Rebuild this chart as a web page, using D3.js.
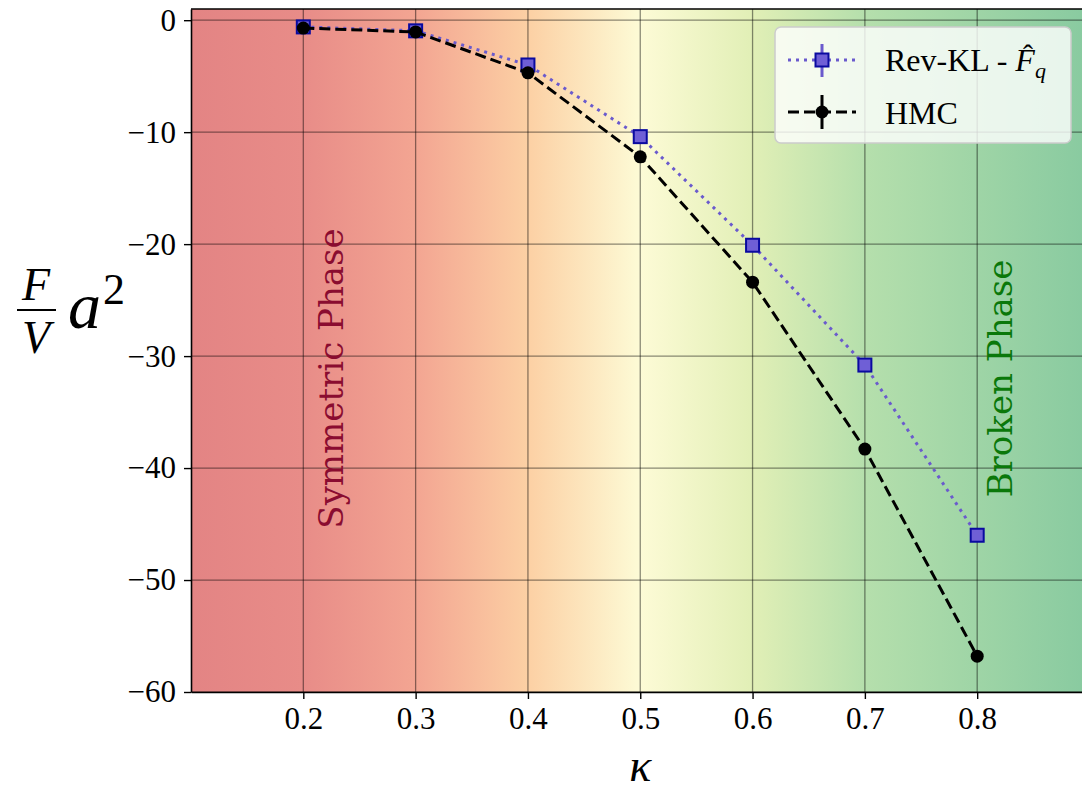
<!DOCTYPE html>
<html>
<head>
<meta charset="utf-8">
<script src="https://cdn.jsdelivr.net/npm/d3@7"></script>
<style>
  body { margin:0; background:#fff; }
  svg { display:block; }
  text { font-family: "Liberation Serif", "DejaVu Serif", serif; }
</style>
</head>
<body>
<svg id="chart" width="1082" height="791"></svg>
<script>
// kappa values and free energy density
var kappa = [0.2, 0.3, 0.4, 0.5, 0.6, 0.7, 0.8];
var revKL = [-0.6, -0.95, -4.0, -10.4, -20.1, -30.8, -46.0];
var hmc = [-0.7, -1.05, -4.7, -12.2, -23.4, -38.3, -56.8];

var xTicks = [0.2, 0.3, 0.4, 0.5, 0.6, 0.7, 0.8];
var yTicks = [0, -10, -20, -30, -40, -50, -60];

var seriesNames = ["Rev-KL - ", "HMC"];

// background colour stops (kappa -> colour)
var bgStops = [
  [0.1, "#e38484"], [0.2, "#e88c88"], [0.3, "#f3a592"], [0.4, "#fcd0a4"],
  [0.5, "#fdfbd6"], [0.6, "#e1efb6"], [0.7, "#b5dfac"], [0.9, "#88caa0"]
];

var svg = d3.select("#chart");
var margins = {left:191, top:9, bottom:99};
var x = d3.scaleLinear().domain([0.1, 0.9]).range([margins.left, 1089.5]);
var y = d3.scaleLinear().domain([-60, 1]).range([791 - margins.bottom, margins.top]);

var defs = svg.append("defs");
var grad = defs.append("linearGradient").attr("id","bg")
  .attr("gradientUnits","userSpaceOnUse")
  .attr("x1", x(0.1)).attr("x2", x(0.9)).attr("y1",0).attr("y2",0);
grad.selectAll("stop").data(bgStops).enter().append("stop")
  .attr("offset", function(d){ return (d[0]-0.1)/0.8; })
  .attr("stop-color", function(d){ return d[1]; });

defs.append("clipPath").attr("id","clip").append("rect")
  .attr("x", x(0.1)).attr("y", y(1))
  .attr("width", x(0.9)-x(0.1)).attr("height", y(-60)-y(1));

svg.append("rect")
  .attr("x", x(0.1)).attr("y", y(1))
  .attr("width", x(0.9)-x(0.1)).attr("height", y(-60)-y(1))
  .attr("fill","url(#bg)");

// grid
var grid = svg.append("g").attr("stroke","#000").attr("stroke-opacity",0.45).attr("stroke-width",1.3);
grid.selectAll(".vx").data(xTicks).enter().append("line")
  .attr("x1", function(d){return x(d);}).attr("x2", function(d){return x(d);})
  .attr("y1", y(1)).attr("y2", y(-60));
grid.selectAll(".hy").data(yTicks).enter().append("line")
  .attr("y1", function(d){return y(d);}).attr("y2", function(d){return y(d);})
  .attr("x1", x(0.1)).attr("x2", x(0.9));

// phase labels
svg.append("text")
  .attr("transform","translate(" + (x(0.225)+12) + "," + y(-32) + ") rotate(-90)")
  .attr("text-anchor","middle")
  .style("font-family","'DejaVu Serif', serif").attr("font-size",34)
  .attr("fill","#8a0c30").text("Symmetric Phase");
svg.append("text")
  .attr("transform","translate(" + (x(0.82)+12) + "," + y(-32) + ") rotate(-90)")
  .attr("text-anchor","middle")
  .style("font-family","'DejaVu Serif', serif").attr("font-size",34)
  .attr("fill","#0a780a").text("Broken Phase");

var plot = svg.append("g").attr("clip-path","url(#clip)");
var line = d3.line().x(function(d){return x(d[0]);}).y(function(d){return y(d[1]);});

var revData = d3.zip(kappa, revKL);
var hmcData = d3.zip(kappa, hmc);

plot.append("path").datum(revData).attr("d", line)
  .attr("fill","none").attr("stroke","#6a5acd").attr("stroke-width",3)
  .attr("stroke-dasharray","3,5");
plot.selectAll(".sq").data(revData).enter().append("rect")
  .attr("x", function(d){return x(d[0])-6.5;}).attr("y", function(d){return y(d[1])-6.5;})
  .attr("width",13).attr("height",13)
  .attr("fill","#6f5fd6").attr("stroke","#0a0aa0").attr("stroke-width",2);

plot.append("path").datum(hmcData).attr("d", line)
  .attr("fill","none").attr("stroke","#000").attr("stroke-width",3)
  .attr("stroke-dasharray","11,5");
plot.selectAll(".ci").data(hmcData).enter().append("circle")
  .attr("cx", function(d){return x(d[0]);}).attr("cy", function(d){return y(d[1]);})
  .attr("r",6.5).attr("fill","#000");

// axes
var xAxis = svg.append("g").attr("transform","translate(0," + y(-60) + ")")
  .call(d3.axisBottom(x).tickValues(xTicks).tickSize(7).tickSizeOuter(0).tickPadding(8)
    .tickFormat(d3.format(".1f")));
var yAxis = svg.append("g").attr("transform","translate(" + x(0.1) + ",0)")
  .call(d3.axisLeft(y).tickValues(yTicks).tickSize(7).tickSizeOuter(0).tickPadding(8)
    .tickFormat(function(d){ return d < 0 ? "\u2212" + Math.abs(d) : d; }));
[xAxis, yAxis].forEach(function(a){
  a.select(".domain").attr("stroke","#000").attr("stroke-width",1.6);
  a.selectAll(".tick line").attr("stroke","#000").attr("stroke-width",1.4);
  a.selectAll(".tick text").attr("font-size",31).attr("fill","#000")
    .style("font-family","'Liberation Serif', serif");
});
// top spine
svg.append("line").attr("x1", x(0.1)).attr("x2", 1082).attr("y1", y(1)).attr("y2", y(1))
  .attr("stroke","#000").attr("stroke-width",1.6);

// x label
svg.append("text").attr("x", x(0.5)).attr("y", 781).attr("text-anchor","middle")
  .attr("font-size",46).attr("font-style","italic").text("\u03ba");

// y label: F/V a^2
var yl = svg.append("g").attr("transform","translate(0,310)");
yl.append("text").attr("x",36).attr("y",-10).attr("text-anchor","middle")
  .attr("font-size",46).attr("font-style","italic").text("F");
yl.append("line").attr("x1",17).attr("x2",56).attr("y1",0).attr("y2",0)
  .attr("stroke","#000").attr("stroke-width",2);
yl.append("text").attr("x",36).attr("y",43).attr("text-anchor","middle")
  .attr("font-size",46).attr("font-style","italic").text("V");
yl.append("text").attr("x",68).attr("y",18)
  .attr("font-size",66).attr("font-style","italic").text("a");
yl.append("text").attr("x",103).attr("y",-6)
  .attr("font-size",44).text("2");

// legend
var lg = svg.append("g").attr("transform","translate(775,27)");
lg.append("rect").attr("width",296).attr("height",116).attr("rx",6)
  .attr("fill","#fff").attr("fill-opacity",0.8).attr("stroke","#ccc").attr("stroke-width",1.5);
// Rev-KL entry
lg.append("line").attr("x1",13).attr("x2",81).attr("y1",33).attr("y2",33)
  .attr("stroke","#6a5acd").attr("stroke-width",3).attr("stroke-dasharray","3,5");
lg.append("line").attr("x1",47).attr("x2",47).attr("y1",17).attr("y2",50)
  .attr("stroke","#6a5acd").attr("stroke-width",3);
lg.append("rect").attr("x",40.5).attr("y",26.5).attr("width",13).attr("height",13)
  .attr("fill","#6f5fd6").attr("stroke","#0a0aa0").attr("stroke-width",2);
var t1 = lg.append("text").attr("x",110).attr("y",44).attr("font-size",32);
t1.append("tspan").text(seriesNames[0]);
t1.append("tspan").attr("font-style","italic").text("F");
t1.append("tspan").attr("font-style","italic").attr("font-size",22).attr("dy",7).text("q");
// hat over F
var fBox = t1.node().getExtentOfChar(seriesNames[0].length);
lg.append("text").attr("x", fBox.x + fBox.width/2 + 3).attr("y",38)
  .attr("text-anchor","middle").attr("font-size",30).text("\u02c6");
// HMC entry
lg.append("line").attr("x1",13).attr("x2",81).attr("y1",85).attr("y2",85)
  .attr("stroke","#000").attr("stroke-width",3).attr("stroke-dasharray","11,5");
lg.append("line").attr("x1",47).attr("x2",47).attr("y1",68).attr("y2",102)
  .attr("stroke","#000").attr("stroke-width",3);
lg.append("circle").attr("cx",47).attr("cy",85).attr("r",6.5).attr("fill","#000");
lg.append("text").attr("x",110).attr("y",97).attr("font-size",32).text(seriesNames[1]);
</script>
</body>
</html>
